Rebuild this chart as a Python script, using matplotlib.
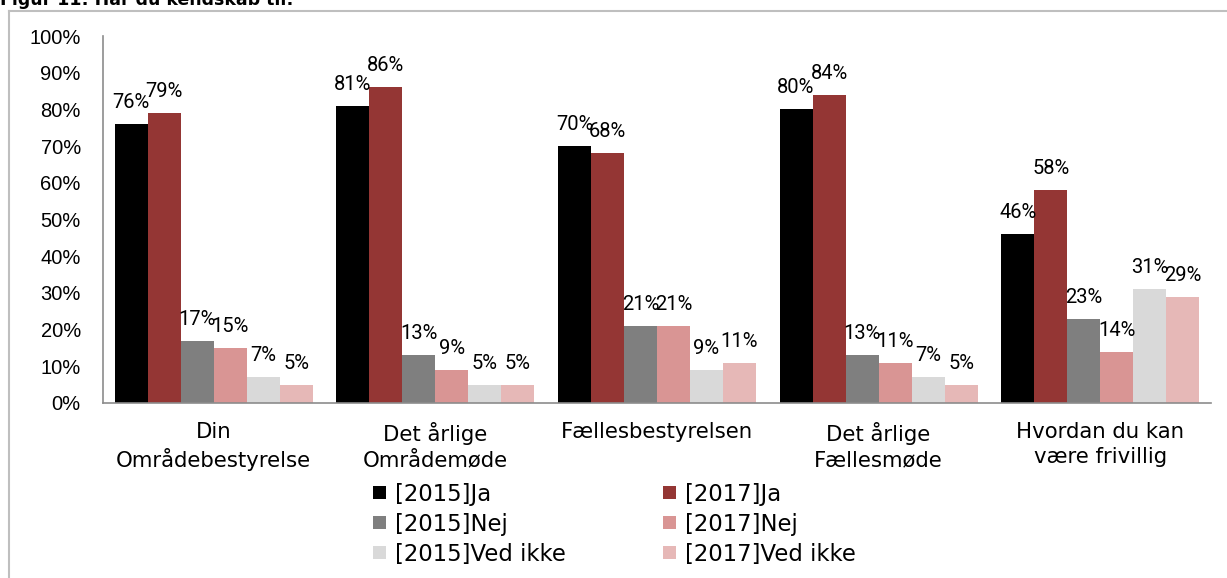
import matplotlib
matplotlib.use("Agg")
import matplotlib.pyplot as plt
from matplotlib.lines import Line2D
import numpy as np

categories = ["Din\nOmrådebestyrelse", "Det årlige\nOmrådemøde", "Fællesbestyrelsen",
              "Det årlige\nFællesmøde", "Hvordan du kan\nvære frivillig"]
series_names = ["[2015]Ja", "[2017]Ja", "[2015]Nej", "[2017]Nej", "[2015]Ved ikke", "[2017]Ved ikke"]
ja_2015 = [76, 81, 70, 80, 46]
ja_2017 = [79, 86, 68, 84, 58]
nej_2015 = [17, 13, 21, 13, 23]
nej_2017 = [15, 9, 21, 11, 14]
ved_2015 = [7, 5, 9, 7, 31]
ved_2017 = [5, 5, 11, 5, 29]
yticks = [0, 10, 20, 30, 40, 50, 60, 70, 80, 90, 100]

series = [ja_2015, ja_2017, nej_2015, nej_2017, ved_2015, ved_2017]
colors = ["#000000", "#943634", "#7F7F7F", "#D99594", "#D9D9D9", "#E6B8B7"]

W, H = 1227, 578
fig = plt.figure(figsize=(W / 100, H / 100), dpi=100)
ax = fig.add_axes([103 / W, 1 - 403 / H, (1211 - 103) / W, (403 - 36) / H])

x = np.arange(len(categories))
bw = 0.149
handles = []
for i, (vals, col, name) in enumerate(zip(series, colors, series_names)):
    pos = x + (i - 2.5) * bw
    b = ax.bar(pos, vals, width=bw, color=col, label=name, zorder=2)
    handles.append(b)
    for p, v in zip(pos, vals):
        ax.annotate(f"{v}%", (p, v), xytext=(0, 11.5), textcoords="offset points",
                    ha="center", va="baseline", fontsize=14.5,
                    family=["Roboto", "DejaVu Sans"], color="black")

ax.set_xlim(-0.5, len(categories) - 0.5)
ax.set_ylim(0, 100)
ax.set_yticks(yticks)
ax.set_yticklabels([f"{t}%" for t in yticks], family="Liberation Sans", fontsize=14.5)
ax.set_xticks(x)
ax.set_xticklabels(categories, fontsize=15.3, family="DejaVu Sans", linespacing=1.3)
ax.tick_params(axis="y", length=0, pad=16)
ax.tick_params(axis="x", length=0, pad=14)
for s in ["top", "right"]:
    ax.spines[s].set_visible(False)
for s in ["left", "bottom"]:
    ax.spines[s].set_color("#8C8C8C")
    ax.spines[s].set_linewidth(1.2)

order = [0, 2, 4, 1, 3, 5]
leg = fig.legend([handles[k] for k in order], [series_names[k] for k in order],
                 ncol=2, loc="upper left", bbox_to_anchor=(373 / W, 1 - 482.5 / H),
                 frameon=False, prop={"family": "DejaVu Sans", "size": 16.4},
                 handlelength=0.55, handleheight=0.55, handletextpad=0.4,
                 columnspacing=4.3, labelspacing=0.31, borderpad=0, borderaxespad=0)

# outer frame (partially visible)
fig.add_artist(Line2D([8.5 / W, 8.5 / W], [0, 1 - 11 / H], transform=fig.transFigure,
                      color="#BFBFBF", lw=1.5))
fig.add_artist(Line2D([8.5 / W, 1], [1 - 11 / H, 1 - 11 / H], transform=fig.transFigure,
                      color="#BFBFBF", lw=1.5))
fig.text(0 / W, 1 - 5 / H, "Figur 11: Har du kendskab til:", fontsize=12.5,
         fontweight="bold", family="DejaVu Sans", va="baseline", ha="left")

fig.savefig("out.png", dpi=100)
